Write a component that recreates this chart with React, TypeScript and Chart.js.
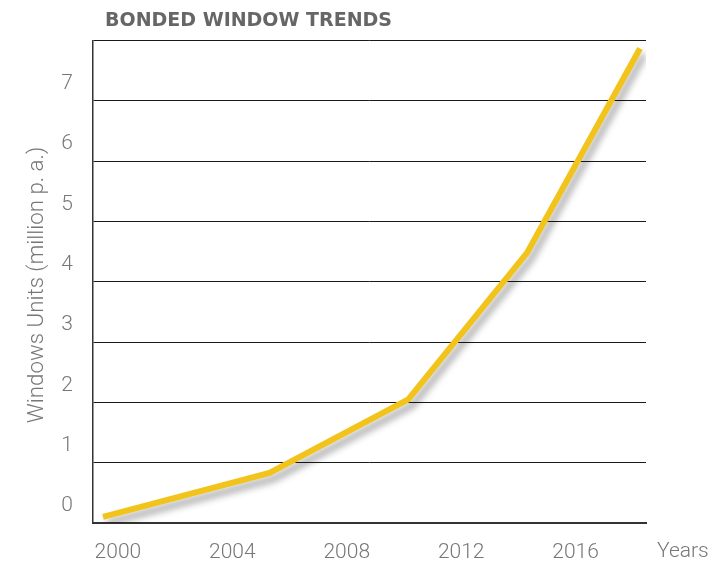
import React, { useEffect, useRef } from "react";
import { Chart, registerables } from "chart.js";

Chart.register(...registerables);

const years = [1999.48, 2005.3, 2010.15, 2014.3, 2018.25];
const units = [0.1, 0.83, 2.05, 4.48, 7.87];
const xTickValues = [2000, 2004, 2008, 2012, 2016];
const yTickValues = [0, 1, 2, 3, 4, 5, 6, 7, 8];
const chartTitle = "BONDED WINDOW TRENDS";
const yTitle = "Windows Units (million p. a.)";
const xTitle = "Years";

const LABEL_FONT = "Roboto";

const shadowPlugin = {
  id: "lineShadow",
  beforeDatasetDraw(chart: any) {
    const ctx = chart.ctx;
    ctx.save();
    ctx.shadowColor = "rgba(0,0,0,0.35)";
    ctx.shadowBlur = 7;
    ctx.shadowOffsetX = 4;
    ctx.shadowOffsetY = 6;
  },
  afterDatasetDraw(chart: any) {
    chart.ctx.restore();
  },
};

const textPlugin = {
  id: "extraText",
  afterDraw(chart: any) {
    const ctx = chart.ctx;
    const a = chart.chartArea;
    ctx.save();
    // title
    ctx.fillStyle = "#666666";
    ctx.font = "bold 19px 'DejaVu Sans'";
    ctx.textAlign = "left";
    ctx.textBaseline = "middle";
    const tw = ctx.measureText(chartTitle).width;
    const target = 287;
    const size = 19 * (target / tw);
    ctx.font = `bold ${size.toFixed(1)}px 'DejaVu Sans'`;
    if (size > 21) {
      ctx.font = "bold 19px 'DejaVu Sans'";
      (ctx as any).letterSpacing = ((target - tw) / chartTitle.length).toFixed(1) + "px";
    }
    ctx.fillText(chartTitle, a.left + 12, 13);
    (ctx as any).letterSpacing = "0px";
    // x title
    ctx.fillStyle = "#777777";
    ctx.font = `300 21px ${LABEL_FONT}`;
    ctx.fillText(xTitle, a.right + 11, a.bottom + 29);
    // y title
    ctx.translate(29, 277);
    ctx.rotate(-Math.PI / 2);
    ctx.textAlign = "center";
    ctx.font = `300 22.3px ${LABEL_FONT}`;
    ctx.fillText(yTitle, 0, 0);
    ctx.restore();
  },
};

export default function App() {
  const ref = useRef<HTMLCanvasElement | null>(null);
  useEffect(() => {
    if (!ref.current) return;
    const chart = new Chart(ref.current, {
      type: "line",
      data: {
        datasets: [
          {
            data: years.map((x, i) => ({ x, y: units[i] })),
            borderColor: "#F2C31B",
            borderWidth: 6,
            borderCapStyle: "butt",
            pointRadius: 0,
            tension: 0,
            fill: false,
          },
        ],
      },
      options: {
        animation: false,
        responsive: true,
        maintainAspectRatio: false,
        layout: { padding: { top: 31, right: 62, left: 0, bottom: 0 } },
        plugins: { legend: { display: false }, tooltip: { enabled: false }, title: { display: false } },
        scales: {
          x: {
            type: "linear",
            min: 1999.13,
            max: 2018.46,
            afterBuildTicks(scale: any) {
              scale.ticks = xTickValues.map((v) => ({ value: v }));
            },
            afterFit(scale: any) {
              scale.height = 39;
            },
            grid: { display: false, drawTicks: false },
            border: { display: true, color: "#333333", width: 2 },
            ticks: {
              padding: 17,
              color: "#777777",
              font: { family: LABEL_FONT, size: 21, weight: "300" as any },
              callback: (v: any) => String(v),
              maxRotation: 0,
              autoSkip: false,
            },
          },
          y: {
            min: 0,
            max: 8,
            afterBuildTicks(scale: any) {
              scale.ticks = yTickValues.map((v) => ({ value: v }));
            },
            afterFit(scale: any) {
              scale.width = 85;
            },
            grid: { color: "#1a1a1a", lineWidth: 1, drawTicks: false },
            border: { display: true, color: "#333333", width: 1.5 },
            ticks: {
              padding: 20,
              labelOffset: -17,
              color: "#777777",
              font: { family: LABEL_FONT, size: 21, weight: "300" as any },
              callback: (v: any) => (v < 8 ? String(v) : ""),
            },
          },
        },
      },
      plugins: [shadowPlugin, textPlugin],
    });
    return () => chart.destroy();
  }, []);
  return (
    <div style={{ width: 700, height: 554, position: "relative" }}>
      <canvas ref={ref} />
    </div>
  );
}
